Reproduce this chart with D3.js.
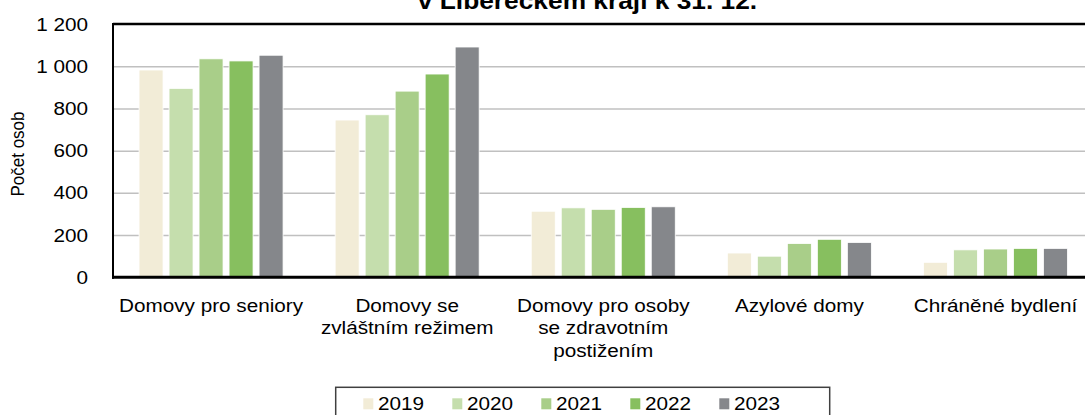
<!DOCTYPE html>
<html><head><meta charset="utf-8">
<script src="https://cdn.jsdelivr.net/npm/d3@7"></script>
<style>
body{margin:0;background:#fff}
svg{display:block}
text{font-family:"Liberation Sans",Arial,Helvetica,sans-serif;fill:#000}
</style>
</head><body>
<svg id="c" width="1085" height="415"></svg>
<script>
// ---- data ----
const categories = ["Domovy pro seniory", "Domovy se\nzvláštním režimem", "Domovy pro osoby\nse zdravotním\npostižením", "Azylové domy", "Chráněné bydlení"];
const years = ["2019", "2020", "2021", "2022", "2023"];
const v2019 = [982, 745, 313, 115, 71];
const v2020 = [895, 770, 329, 100, 130];
const v2021 = [1035, 882, 322, 160, 134];
const v2022 = [1025, 963, 331, 180, 137];
const v2023 = [1052, 1091, 334, 165, 137];
const yTicks = [0, 200, 400, 600, 800, 1000, 1200];
const colors = ["#F2ECD7", "#C5DEAD", "#A9CE89", "#87BF5F", "#85878B"];
const titleText = "v Libereckém kraji k 31. 12.";
const yTitle = "Počet osob";

// ---- layout ----
const SX = 1.12; // horizontal text stretch seen in reference
const svg = d3.select("#c");
const pLeft = 113, pRight = 1093.5, pTop = 24, pBottom = 277.3;
const series = [v2019, v2020, v2021, v2022, v2023];

const x0 = d3.scaleBand().domain(categories).range([pLeft, pRight]).paddingInner(0).paddingOuter(0);
const x1 = d3.scaleBand().domain(years).range([0, x0.bandwidth()]).paddingInner(0.2).paddingOuter(0.868);
const y = d3.scaleLinear().domain([0, 1200]).range([pBottom, pTop]);
const fmt = d3.formatLocale({decimal: ",", thousands: " ", grouping: [3], currency: ["", ""]}).format(",");

function stext(g, x, yy, str, size, anchor, weight) {
  return g.append("text")
    .attr("transform", `translate(${x},${yy}) scale(${SX},1)`)
    .attr("text-anchor", anchor || "middle")
    .style("font-size", size + "px")
    .style("font-weight", weight || "normal")
    .text(str);
}

// gridlines
const gridAxis = d3.axisLeft(y).tickValues(yTicks.filter(d => d > 0 && d < 1200))
  .tickSize(-(pRight - pLeft)).tickFormat("");
const gg = svg.append("g").attr("transform", `translate(${pLeft},0)`).call(gridAxis);
gg.select(".domain").remove();
gg.selectAll("line").attr("stroke", "#C0C0C0").attr("stroke-width", 1.5);

// bars
const groups = svg.append("g").selectAll("g").data(categories).join("g")
  .attr("transform", d => `translate(${x0(d)},0)`);
groups.selectAll("rect")
  .data((d, i) => years.map((yr, k) => ({yr, v: series[k][i], k})))
  .join("rect")
  .attr("x", d => x1(d.yr))
  .attr("width", x1.bandwidth())
  .attr("y", d => y(d.v))
  .attr("height", d => y(0) - y(d.v))
  .attr("fill", d => colors[d.k])
  .attr("stroke", "#ffffff")
  .attr("stroke-width", 0.8);

// frame lines
svg.append("line").attr("x1", pLeft).attr("x2", pRight).attr("y1", pTop).attr("y2", pTop)
  .attr("stroke", "#000").attr("stroke-width", 2.5);
svg.append("line").attr("x1", pLeft).attr("x2", pLeft).attr("y1", pTop - 1).attr("y2", pBottom + 1.5)
  .attr("stroke", "#000").attr("stroke-width", 2);
svg.append("line").attr("x1", pLeft - 1).attr("x2", pRight).attr("y1", pBottom).attr("y2", pBottom)
  .attr("stroke", "#000").attr("stroke-width", 3);

// y tick labels
const yl = svg.append("g");
yTicks.forEach(t => {
  stext(yl, 88, y(t) + 6.5, fmt(t), 18.5, "end");
});

// y title
svg.append("text")
  .attr("transform", `translate(23.5,154) scale(${SX},1) rotate(-90)`)
  .attr("text-anchor", "middle")
  .style("font-size", "17px")
  .text(yTitle);

// category labels
const cl = svg.append("g");
categories.forEach(c => {
  const cx = x0(c) + x0.bandwidth() / 2;
  c.split("\n").forEach((line, i) => {
    stext(cl, cx, 311.7 + i * 22.5, line, 18.5, "middle");
  });
});

// title (second line visible)
stext(svg, 587.5, 8.5, titleText, 23.5, "middle", "bold");

// legend
const lg = svg.append("g");
lg.append("rect").attr("x", 335.7).attr("y", 387.3).attr("width", 494).attr("height", 50)
  .attr("fill", "#fff").attr("stroke", "#404040").attr("stroke-width", 1.5);
const lx = d3.scaleBand().domain(years).range([363.3, 363.3 + 5 * 89]);
years.forEach((yr, k) => {
  lg.append("rect").attr("x", lx(yr)).attr("y", 398.3).attr("width", 10).attr("height", 11)
    .attr("fill", colors[k]);
  stext(lg, lx(yr) + 14.7, 410, yr, 18.5, "start");
});
</script>
</body></html>
